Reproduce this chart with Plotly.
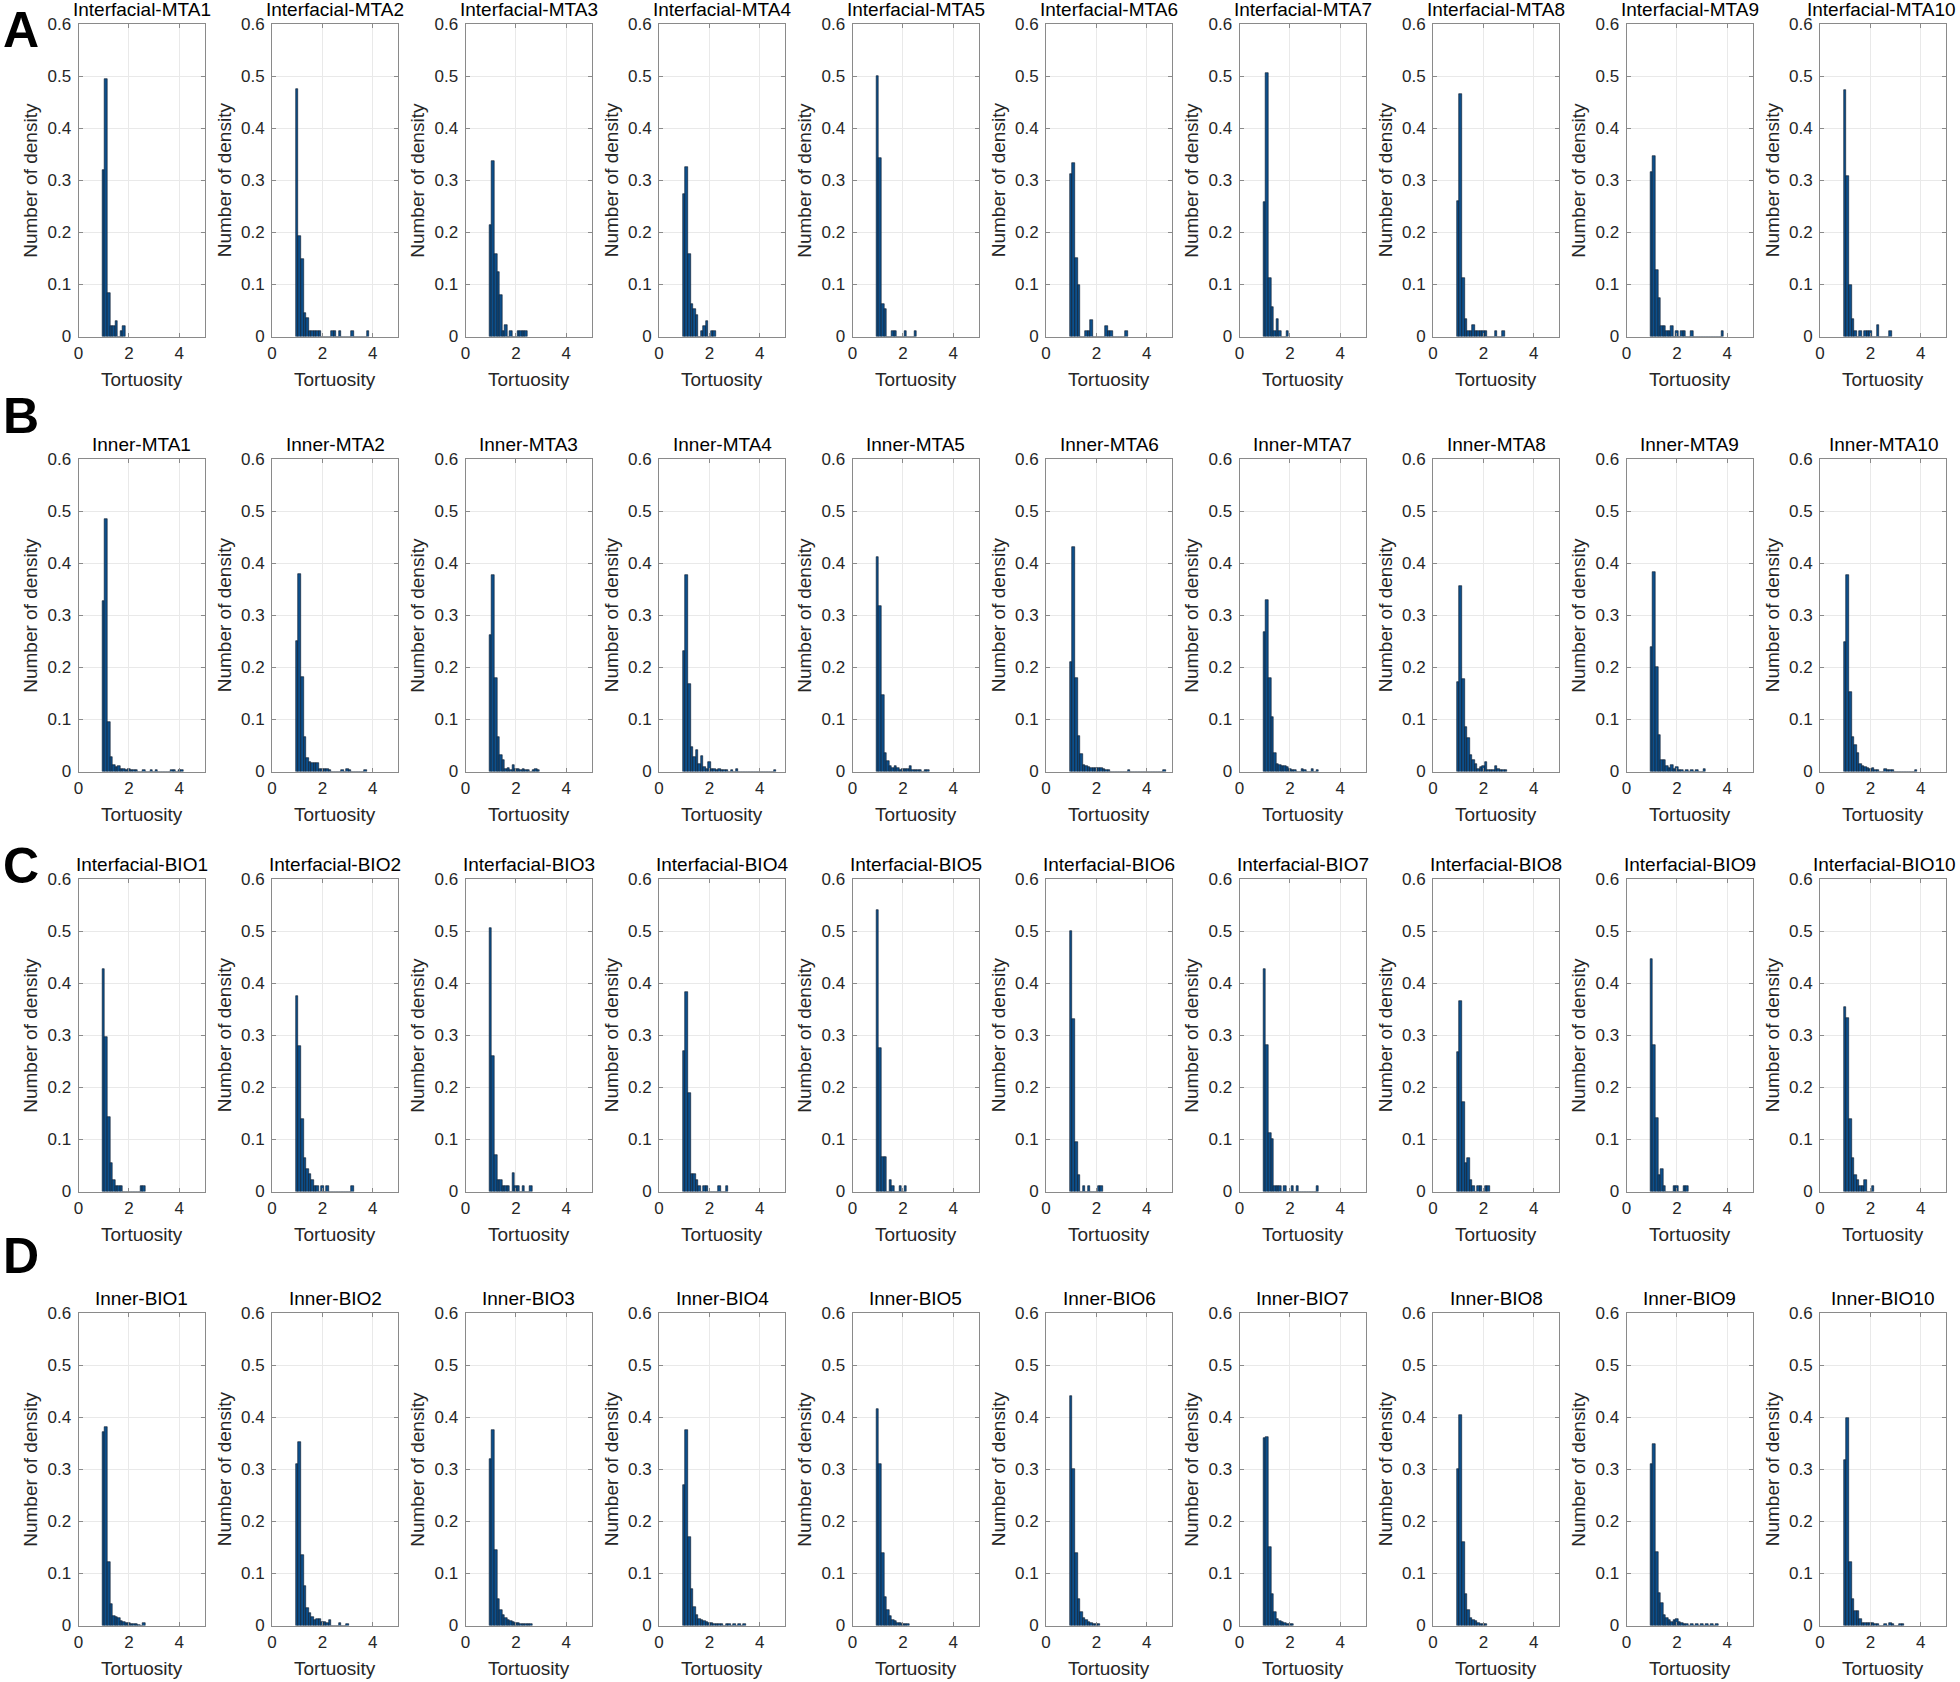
import plotly.graph_objects as go
from plotly.subplots import make_subplots

# Histogram bin centres (bin width 0.1)
TORTUOSITY_BINS = [1.0, 1.1, 1.2, 1.3, 1.4, 1.5, 1.6, 1.7, 1.8, 1.9,
                   2.0, 2.1, 2.2, 2.3, 2.4, 2.5, 2.6, 2.7, 2.8, 2.9,
                   3.0, 3.1, 3.2, 3.3, 3.4, 3.5, 3.6, 3.7, 3.8, 3.9,
                   4.0, 4.1, 4.2, 4.3, 4.4, 4.5, 4.6, 4.7]
BIN_WIDTH = 0.1

X_TICKS = [0, 2, 4]
Y_TICKS = [0, 0.1, 0.2, 0.3, 0.4, 0.5, 0.6]

ROW_LETTERS = ["A", "B", "C", "D"]
ROW_PREFIXES = ["Interfacial-MTA", "Inner-MTA", "Interfacial-BIO", "Inner-BIO"]

# density per bin, starting at the 1.0 bin
interfacial_mta = [
    [0.32, 0.495, 0.083, 0.02, 0.02, 0.03, 0, 0.01, 0.02],
    [0.476, 0.193, 0.148, 0.045, 0.035, 0.01, 0.01, 0.01, 0.01, 0.01, 0, 0, 0, 0,
     0.01, 0.01, 0, 0.01, 0, 0, 0, 0, 0.01, 0, 0, 0, 0, 0, 0.01],
    [0.214, 0.337, 0.158, 0.123, 0.079, 0.01, 0.023, 0, 0.01, 0, 0, 0.01, 0.01, 0.01, 0.01],
    [0.274, 0.326, 0.158, 0.063, 0.053, 0.042, 0, 0.01, 0.02, 0.03, 0, 0.01, 0.01],
    [0.5, 0.343, 0.062, 0.052, 0, 0, 0.01, 0.01, 0, 0, 0, 0.01, 0, 0, 0, 0.01],
    [0.312, 0.334, 0.151, 0.098, 0, 0, 0.01, 0.01, 0.031, 0, 0, 0, 0, 0, 0.02, 0.01,
     0.01, 0, 0, 0, 0, 0, 0.01],
    [0.258, 0.505, 0.113, 0.056, 0.01, 0.033, 0.01, 0, 0, 0.01],
    [0.261, 0.466, 0.113, 0.033, 0.01, 0.01, 0.023, 0.01, 0.01, 0.01, 0.01, 0.01, 0, 0,
     0, 0.01, 0, 0, 0.01],
    [0.316, 0.347, 0.127, 0.074, 0.02, 0.02, 0.01, 0.01, 0.02, 0, 0.01, 0, 0.01, 0.01,
     0, 0, 0.01, 0, 0, 0, 0, 0, 0, 0, 0, 0, 0, 0, 0.01],
    [0.4725, 0.308, 0.099, 0.034, 0.01, 0, 0.01, 0, 0.01, 0.01, 0.01, 0, 0, 0.022,
     0, 0, 0, 0, 0.01],
]

inner_mta = [
    [0.327, 0.485, 0.0955, 0.0276, 0.012, 0.008, 0.010, 0.005, 0.004, 0.003, 0.004,
     0.003, 0.003, 0.003, 0, 0, 0.002, 0, 0, 0.002, 0, 0.002, 0, 0, 0, 0, 0, 0.002,
     0.002, 0, 0.003, 0.002],
    [0.25, 0.38, 0.181, 0.066, 0.025, 0.019, 0.016, 0.017, 0.017, 0.005, 0.005, 0.005,
     0.004, 0.002, 0, 0, 0, 0, 0.002, 0, 0.005, 0.002, 0, 0, 0, 0, 0, 0.003],
    [0.263, 0.378, 0.18, 0.067, 0.032, 0.022, 0.005, 0.007, 0.003, 0.013, 0.005, 0.004,
     0.003, 0.004, 0.002, 0.002, 0, 0.002, 0.004, 0.003],
    [0.232, 0.378, 0.168, 0.048, 0.027, 0.041, 0.015, 0.029, 0.009, 0.005, 0.018, 0.004,
     0.005, 0.003, 0.004, 0.003, 0.003, 0.002, 0, 0.002, 0, 0.005, 0, 0, 0, 0, 0, 0,
     0, 0, 0, 0, 0, 0, 0, 0, 0.003],
    [0.412, 0.317, 0.147, 0.035, 0.02, 0.01, 0.006, 0.01, 0.007, 0.003, 0.005, 0.004,
     0.004, 0.01, 0.003, 0.002, 0.002, 0.002, 0, 0.002, 0.002],
    [0.211, 0.431, 0.179, 0.068, 0.033, 0.013, 0.01, 0.008, 0.006, 0.007, 0.007, 0.007,
     0.007, 0.004, 0.003, 0.002, 0, 0, 0, 0, 0, 0, 0, 0.002, 0, 0, 0, 0, 0, 0, 0, 0,
     0, 0, 0, 0, 0, 0.002],
    [0.267, 0.33, 0.18, 0.105, 0.035, 0.015, 0.012, 0.011, 0.011, 0.008, 0.005, 0.003,
     0.002, 0, 0, 0.004, 0.003, 0, 0, 0.004, 0, 0.002],
    [0.172, 0.357, 0.178, 0.085, 0.065, 0.032, 0.022, 0.015, 0.005, 0.008, 0.01, 0.018,
     0.003, 0.002, 0.002, 0.01, 0.005, 0.003, 0.003, 0.002],
    [0.24, 0.383, 0.2, 0.07, 0.023, 0.022, 0.01, 0.007, 0.013, 0.005, 0.008, 0.003,
     0.002, 0, 0.003, 0, 0.003, 0, 0.003, 0, 0, 0.004],
    [0.248, 0.377, 0.152, 0.067, 0.05, 0.035, 0.015, 0.01, 0.008, 0.006, 0.004, 0.006,
     0.003, 0.002, 0, 0, 0.005, 0.003, 0.003, 0.002, 0, 0, 0, 0, 0, 0, 0, 0, 0.003],
]

interfacial_bio = [
    [0.428, 0.297, 0.143, 0.055, 0.022, 0.011, 0.011, 0.011, 0, 0, 0, 0, 0, 0, 0,
     0.011, 0.011],
    [0.376, 0.279, 0.14, 0.065, 0.043, 0.033, 0.022, 0.011, 0.011, 0, 0.011, 0, 0.011,
     0, 0, 0, 0, 0, 0, 0, 0, 0, 0.011],
    [0.505, 0.26, 0.071, 0.022, 0.022, 0.011, 0.011, 0.011, 0, 0.036, 0.011, 0.011, 0,
     0.011, 0, 0, 0.011],
    [0.27, 0.383, 0.19, 0.033, 0.033, 0.022, 0.011, 0, 0.011, 0.011, 0, 0, 0, 0,
     0.011, 0, 0, 0.011],
    [0.54, 0.275, 0.066, 0.066, 0, 0.022, 0.011, 0, 0, 0.011, 0, 0.011],
    [0.5, 0.331, 0.096, 0.032, 0, 0.011, 0, 0.011, 0, 0, 0, 0.011, 0.011],
    [0.427, 0.281, 0.113, 0.1, 0.011, 0.011, 0.011, 0, 0.011, 0, 0, 0.011, 0, 0.011,
     0, 0, 0, 0, 0, 0, 0, 0.011],
    [0.268, 0.365, 0.172, 0.054, 0.065, 0.022, 0.011, 0, 0.011, 0.011, 0, 0.011, 0.011],
    [0.446, 0.282, 0.141, 0.032, 0.044, 0.011, 0, 0, 0, 0.011, 0.011, 0, 0, 0.011, 0.011],
    [0.355, 0.333, 0.14, 0.065, 0.032, 0.022, 0.011, 0.011, 0.022, 0, 0, 0.011],
]

inner_bio = [
    [0.371, 0.382, 0.122, 0.041, 0.019, 0.017, 0.014, 0.008, 0.007, 0.005, 0.004,
     0.003, 0.003, 0.002, 0.001, 0, 0.005],
    [0.31, 0.352, 0.136, 0.076, 0.034, 0.024, 0.017, 0.01, 0.013, 0.012, 0.006, 0.007,
     0.004, 0.01, 0, 0, 0, 0.005, 0, 0, 0.002],
    [0.32, 0.375, 0.145, 0.05, 0.03, 0.02, 0.015, 0.01, 0.008, 0.006, 0.005, 0.004,
     0.003, 0.002, 0.002, 0.002, 0.002],
    [0.27, 0.375, 0.17, 0.07, 0.035, 0.02, 0.012, 0.01, 0.008, 0.006, 0.005, 0.004,
     0.003, 0.003, 0.002, 0.002, 0, 0.002, 0.002, 0, 0.002, 0, 0.002, 0, 0.002],
    [0.415, 0.31, 0.14, 0.055, 0.03, 0.018, 0.01, 0.008, 0.005, 0.004, 0.003, 0.002,
     0.002],
    [0.44, 0.3, 0.14, 0.05, 0.025, 0.015, 0.01, 0.006, 0.004, 0.003, 0.002, 0.002],
    [0.36, 0.362, 0.15, 0.06, 0.025, 0.012, 0.008, 0.006, 0.004, 0.003, 0.002, 0.002],
    [0.3, 0.405, 0.16, 0.06, 0.03, 0.015, 0.01, 0.008, 0.005, 0.003, 0.002, 0.002],
    [0.311, 0.349, 0.141, 0.062, 0.044, 0.02, 0.015, 0.01, 0.007, 0.01, 0.013, 0.007,
     0.005, 0.003, 0.002, 0, 0.002, 0, 0.002, 0, 0.002, 0, 0.002, 0, 0.002, 0, 0.002],
    [0.318, 0.399, 0.122, 0.05, 0.028, 0.028, 0.012, 0.005, 0.004, 0.005, 0.005, 0.005,
     0.003, 0.002, 0, 0, 0.002, 0, 0.004, 0.002, 0, 0, 0.002, 0.002],
]

ROWS = [interfacial_mta, inner_mta, interfacial_bio, inner_bio]

# page geometry (px)
W, H = 1960, 1682
AX_LEFT0 = 78.5
COL_STEP = 193.5
AX_W = 126
ROW_TOPS = [24, 459, 879, 1313]
AX_H = 312.5

FONT = "Liberation Sans, Arial, Helvetica, sans-serif"
BAR_COLOR = "#0d4f8b"
EDGE_COLOR = "#0a1626"
AXIS_COLOR = "#8a8a8a"
TEXT_COLOR = "#262626"


def px_x(x):
    return x / W


def px_y(y):
    return 1 - y / H


fig = make_subplots(rows=4, cols=10)

annotations = []
for r, series in enumerate(ROWS):
    top = ROW_TOPS[r]
    bottom = top + AX_H
    for c, dens in enumerate(series):
        n = r * 10 + c + 1
        left = AX_LEFT0 + c * COL_STEP
        right = left + AX_W

        fig.add_trace(go.Bar(
            x=TORTUOSITY_BINS[:len(dens)],
            y=dens,
            width=BIN_WIDTH,
            marker=dict(color=BAR_COLOR, line=dict(color=EDGE_COLOR, width=0.6)),
            showlegend=False,
            hoverinfo="skip",
        ), row=r + 1, col=c + 1)

        sfx = "" if n == 1 else str(n)
        fig.layout["xaxis" + sfx].update(
            domain=[px_x(left), px_x(right)],
            range=[0, 5], tickvals=X_TICKS,
            showgrid=True, gridcolor="#e9e9e9", gridwidth=1,
            showline=True, linecolor=AXIS_COLOR, linewidth=1, mirror="allticks",
            ticks="inside", ticklen=4, tickcolor=AXIS_COLOR,
            zeroline=False, ticklabelstandoff=1, automargin=False,
            tickfont=dict(family=FONT, size=17, color=TEXT_COLOR),
            fixedrange=True,
        )
        fig.layout["yaxis" + sfx].update(
            domain=[px_y(bottom), px_y(top)],
            range=[0, 0.6], tickvals=Y_TICKS,
            ticktext=[("%g" % v) for v in Y_TICKS],
            showgrid=True, gridcolor="#e9e9e9", gridwidth=1,
            showline=True, linecolor=AXIS_COLOR, linewidth=1, mirror="allticks",
            ticks="inside", ticklen=4, tickcolor=AXIS_COLOR,
            zeroline=False, ticklabelstandoff=3, automargin=False,
            tickfont=dict(family=FONT, size=17, color=TEXT_COLOR),
            fixedrange=True,
        )

        # panel title; the last column is kept inside the page
        cx = (left + right) / 2
        title_anchor = "center"
        if c == 9 and r in (0, 2):
            cx, title_anchor = W - 2, "right"
        annotations.append(dict(
            x=px_x(cx), y=px_y(top), xref="paper", yref="paper",
            xanchor=title_anchor, yanchor="bottom", yshift=2, showarrow=False,
            text=f"{ROW_PREFIXES[r]}{c + 1}",
            font=dict(family=FONT, size=19, color="#000000"),
        ))
        # y label
        annotations.append(dict(
            x=px_x(left - 48), y=px_y((top + bottom) / 2), xref="paper", yref="paper",
            xanchor="center", yanchor="middle", textangle=-90, showarrow=False,
            text="Number of density",
            font=dict(family=FONT, size=19, color=TEXT_COLOR),
        ))
        # x label
        annotations.append(dict(
            x=px_x((left + right) / 2), y=px_y(bottom + 43), xref="paper", yref="paper",
            xanchor="center", yanchor="middle", showarrow=False,
            text="Tortuosity",
            font=dict(family=FONT, size=19, color=TEXT_COLOR),
        ))

# row letters (box tops, px)
LETTER_TOP = [0, 386, 836, 1226]
for letter, ly in zip(ROW_LETTERS, LETTER_TOP):
    annotations.append(dict(
        x=px_x(21), y=px_y(ly), xref="paper", yref="paper",
        xanchor="center", yanchor="top", showarrow=False,
        text=f"<b>{letter}</b>",
        font=dict(family=FONT, size=50, color="#000000"),
    ))

fig.update_layout(
    width=W, height=H,
    margin=dict(l=0, r=0, t=0, b=0, autoexpand=False),
    paper_bgcolor="white", plot_bgcolor="white",
    bargap=0, showlegend=False,
    annotations=annotations,
)

# the figure fills the whole window, so drop the page's default body margin
fig.write_html("out.html", config={"displayModeBar": False},
               post_script="document.body.style.margin = '0px';")
